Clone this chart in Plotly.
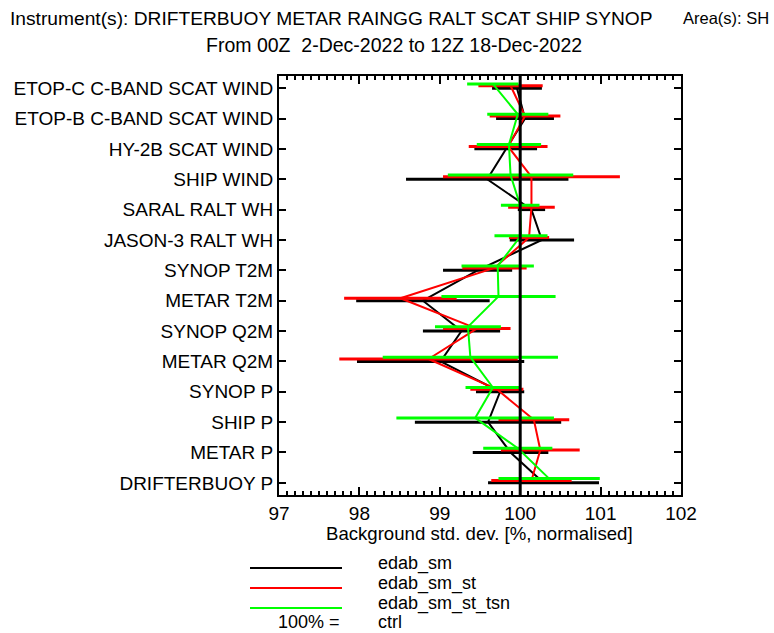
import plotly.graph_objects as go

# Categories, bottom to top
categories = [
    "DRIFTERBUOY P", "METAR P", "SHIP P", "SYNOP P",
    "METAR Q2M", "SYNOP Q2M", "METAR T2M", "SYNOP T2M",
    "JASON-3 RALT WH", "SARAL RALT WH", "SHIP WIND",
    "HY-2B SCAT WIND", "ETOP-B C-BAND SCAT WIND", "ETOP-C C-BAND SCAT WIND",
]

# Mean background std. dev. [% of ctrl] and half-width of the range bar
edab_sm_mean = [100.29, 99.88, 99.60, 99.75, 99.01, 99.27, 98.79, 99.47,
                100.27, 100.14, 99.59, 99.82, 100.06, 99.96]
edab_sm_err = [0.69, 0.47, 0.91, 0.30, 1.04, 0.48, 0.83, 0.43,
               0.40, 0.17, 1.01, 0.39, 0.36, 0.31]

edab_sm_st_mean = [100.14, 100.25, 100.17, 99.71, 98.86, 99.46, 98.51, 99.68,
                   100.11, 100.14, 100.14, 99.85, 100.06, 99.88]
edab_sm_st_err = [0.50, 0.49, 0.44, 0.33, 1.11, 0.42, 0.70, 0.40,
                  0.25, 0.29, 1.10, 0.49, 0.44, 0.40]

edab_sm_st_tsn_mean = [100.36, 99.97, 99.44, 99.66, 99.38, 99.35, 99.73, 99.72,
                       100.01, 100.00, 99.88, 99.86, 99.97, 99.66]
edab_sm_st_tsn_err = [0.63, 0.43, 0.98, 0.34, 1.09, 0.41, 0.71, 0.45,
                      0.33, 0.24, 0.78, 0.40, 0.38, 0.32]

x_ticks = [97, 98, 99, 100, 101, 102]
x_range = [97, 102]
x_minor_step = 0.1
series_names = ["edab_sm", "edab_sm_st", "edab_sm_st_tsn"]
ref_value = 100

FONT = "Liberation Sans, Arial, sans-serif"
colors = ["#000000", "#ff0000", "#00ff00"]
offsets = [0.0, 0.08, 0.14]

fig = go.Figure()
series = [
    (edab_sm_mean, edab_sm_err),
    (edab_sm_st_mean, edab_sm_st_err),
    (edab_sm_st_tsn_mean, edab_sm_st_tsn_err),
]
for (m, e), name, col, off in zip(series, series_names, colors, offsets):
    fig.add_trace(go.Scatter(
        x=m,
        y=[i + off for i in range(len(categories))],
        mode="lines",
        name=name,
        line=dict(color=col, width=2),
        error_x=dict(type="data", array=e, symmetric=True,
                     color=col, thickness=3, width=0),
        showlegend=False,
    ))

fig.add_shape(type="line", x0=ref_value, x1=ref_value, xref="x",
              y0=0, y1=1, yref="paper", line=dict(color="black", width=3))

# Custom legend
L = 402.0
H = 419.0
def px(xp):
    return (xp - 279) / L
def py(yp):
    return (495 - yp) / H

leg_y_lines = [568, 588, 608]
leg_y_text = [563, 583, 603]
for name, col, yl, yt in zip(series_names, colors, leg_y_lines, leg_y_text):
    fig.add_shape(type="line", xref="paper", yref="paper",
                  x0=px(250), x1=px(342), y0=py(yl), y1=py(yl),
                  line=dict(color=col, width=2))
    fig.add_annotation(text=name, xref="paper", yref="paper",
                       x=px(376), y=py(yt), xanchor="left", yanchor="middle",
                       showarrow=False, font=dict(size=18, family=FONT, color="black"))
fig.add_annotation(text="100% =", xref="paper", yref="paper",
                   x=px(342), y=py(622), xanchor="right", yanchor="middle",
                   showarrow=False, font=dict(size=18, family=FONT, color="black"))
fig.add_annotation(text="ctrl", xref="paper", yref="paper",
                   x=px(376), y=py(622), xanchor="left", yanchor="middle",
                   showarrow=False, font=dict(size=18, family=FONT, color="black"))

# Titles
fig.add_annotation(text="Instrument(s): DRIFTERBUOY METAR RAINGG RALT SCAT SHIP SYNOP",
                   xref="paper", yref="paper", x=px(8), y=py(18),
                   xanchor="left", yanchor="middle", showarrow=False,
                   font=dict(size=19.2, family=FONT, color="black"))
fig.add_annotation(text="Area(s): SH", xref="paper", yref="paper", x=px(771), y=py(18),
                   xanchor="right", yanchor="middle", showarrow=False,
                   font=dict(size=16.5, family=FONT, color="black"))
fig.add_annotation(text="From 00Z \u00a02-Dec-2022 to 12Z 18-Dec-2022",
                   xref="paper", yref="paper", x=px(394), y=py(45),
                   xanchor="center", yanchor="middle", showarrow=False,
                   font=dict(size=19.5, family=FONT, color="black"))
fig.add_annotation(text="Background std. dev. [%, normalised]",
                   xref="paper", yref="paper", x=px(479), y=py(533),
                   xanchor="center", yanchor="middle", showarrow=False,
                   font=dict(size=18.6, family=FONT, color="black"))

fig.update_layout(
    width=774, height=633,
    margin=dict(l=279, r=93, t=76, b=138),
    plot_bgcolor="white", paper_bgcolor="white",
    font=dict(family=FONT, size=18, color="black"),
    showlegend=False,
    xaxis=dict(range=x_range, tickvals=x_ticks, ticks="inside", ticklen=8,
               tickwidth=1.5, tickcolor="black",
               showline=True, linecolor="black", linewidth=2, mirror="ticks",
               showgrid=False, zeroline=False,
               minor=dict(dtick=x_minor_step, ticks="inside", ticklen=4,
                          tickwidth=1.5, tickcolor="black", showgrid=False),
               tickfont=dict(size=19, family=FONT, color="black")),
    yaxis=dict(range=[-0.4, 13.4], tickvals=list(range(len(categories))),
               ticktext=categories, ticks="inside", ticklen=7, tickwidth=1.5,
               tickcolor="black",
               showline=True, linecolor="black", linewidth=2, mirror="ticks",
               showgrid=False, zeroline=False,
               tickfont=dict(size=19, family=FONT, color="black")),
)

fig.write_html("out.html")
